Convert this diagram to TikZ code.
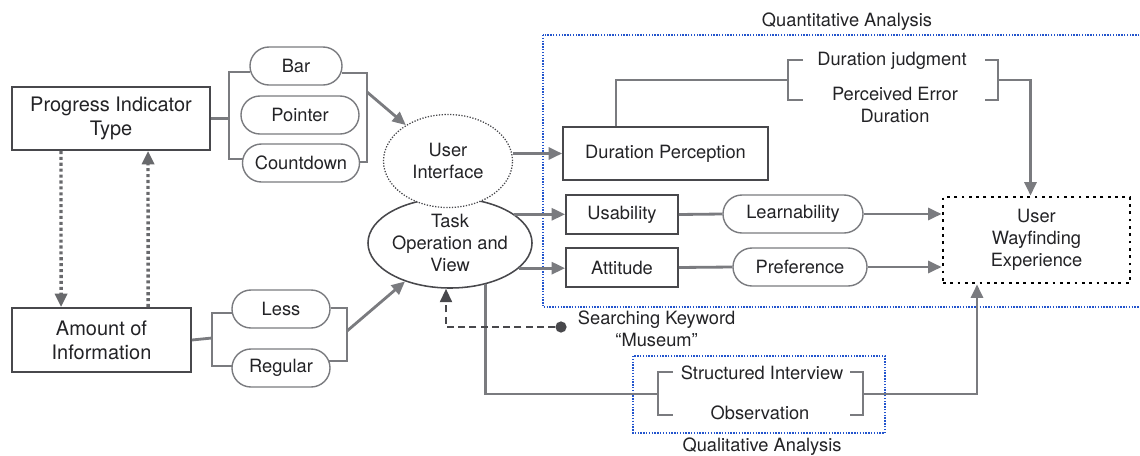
\documentclass[tikz,border=0pt]{standalone}
\usepackage{fontspec}
\setmainfont{TeX Gyre Heros}
\usepackage{xcolor}
\usepackage{tikz}
\usetikzlibrary{shapes,arrows,arrows.meta,positioning,calc}
\definecolor{linegray}{RGB}{122,123,127}
\definecolor{boxgray}{RGB}{72,72,76}
\definecolor{txtgray}{RGB}{35,35,38}
\definecolor{dotblue}{RGB}{35,85,205}

\begin{document}
\begin{tikzpicture}[x=0.025cm,y=-0.025cm,
        font=\fontsize{13}{15.5}\selectfont, text=txtgray,
        >={Triangle[length=9.5pt,width=8.5pt]},
        box/.style={draw=boxgray,line width=1.3pt,fill=white,inner sep=0pt,align=center},
        pill/.style={draw=linegray,line width=1pt,fill=white,rounded rectangle,inner sep=0pt,minimum height=0.95cm},
        conn/.style={draw=linegray,line width=2pt},
        arr/.style={conn,->},
        dotarr/.style={draw=linegray!85!black,line width=2.4pt,dash pattern=on 2.2pt off 2pt,->},
        dasharr/.style={draw=boxgray,line width=1.6pt,dash pattern=on 5pt off 3pt,->},
        frame/.style={draw=dotblue,line width=1pt,dash pattern=on 1pt off 1pt}]
            \useasboundingbox (0,0) rectangle (1140,455);
            % analysis frames
            \draw[frame] (543,35) rectangle (1150,307);
            \node (quanttitle) at (847,22) {Quantitative Analysis};
            \draw[frame] (633,356) rectangle (885,433);
            \node (qualtitle) at (762,447) {Qualitative Analysis};
            % factors
            \node[box,font=\fontsize{14.2}{17}\selectfont,minimum width=4.95cm,minimum height=1.575cm] (pit) at (111,118.5) {Progress Indicator\\Type};
            \node[box,font=\fontsize{14.2}{17}\selectfont,minimum width=4.475cm,minimum height=1.6cm] (aoi) at (101.5,340) {Amount of\\Information};
            \node[pill,minimum width=2.3cm] (bar) at (296,66) {Bar};
            \node[pill,minimum width=2.95cm] (pointer) at (300,115) {Pointer};
            \node[pill,minimum width=2.925cm] (cdown) at (301,163) {Countdown};
            \node[pill,minimum width=2.45cm] (less) at (281,309) {Less};
            \node[pill,minimum width=2.45cm] (regular) at (281,368) {Regular};
            % interface and task
            \node[ellipse,draw=boxgray,line width=1.1pt,fill=white,align=center,inner sep=0pt,minimum width=4.1cm,minimum height=2.25cm] (task) at (450,243) {Task\\Operation and\\View};
            \node[ellipse,draw=boxgray,line width=0.9pt,dash pattern=on 0.9pt off 1.1pt,fill=white,align=center,inner sep=0pt,minimum width=3.225cm,minimum height=2.325cm] (ui) at (448,161) {User\\Interface};
            % measures
            \node[box,minimum width=5.125cm,minimum height=1.325cm] (dp) at (665.5,153.5) {Duration Perception};
            \node[box,minimum width=2.8cm,minimum height=0.975cm] (usab) at (622,214.5) {Usability};
            \node[box,minimum width=2.8cm,minimum height=0.975cm] (att) at (622,267.5) {Attitude};
            \node[pill,minimum width=3.5cm] (learn) at (793,214) {Learnability};
            \node[pill,minimum width=3.35cm] (pref) at (800,267) {Preference};
            \node[box,draw=black,line width=2pt,dash pattern=on 2pt off 3.2pt,minimum width=4.675cm,minimum height=2.15cm] (uwe) at (1036.5,240) {User\\Wayfinding\\Experience};
            \node (djud) at (892,61) {Duration judgment};
            \node[align=center] (perr) at (895,105) {Perceived Error\\Duration};
            \node (sint) at (762,373) {Structured Interview};
            \node (obs) at (760,413) {Observation};
            \node[circle,fill=boxgray,inner sep=0pt,minimum size=8pt] (kw) at (561,327) {};
            \node[align=center,anchor=west] (kwtext) at (573,329) {Searching Keyword\\“Museum”};
            % joints of the brackets
            \coordinate (jA) at (229,118.5);
            \coordinate (jB) at (367,92);
            \coordinate (jC) at (212,338);
            \coordinate (jD) at (347,331);
            \coordinate (jE) at (788,80);
            \coordinate (jF) at (998,80);
            \coordinate (jG) at (658,394);
            \coordinate (jH) at (863,394);
            % indicator type
            \draw[conn] (pit.east) -- (jA);
            \draw[conn] ($(bar.west)+(1,6)$) -| (jA) |- ($(cdown.west)+(1,-4)$);
            \draw[conn] ($(bar.east)+(-1,7)$) -| (jB) |- ($(cdown.east)+(-1,-1)$);
            \draw[arr] (jB) -- (ui);
            % amount of information
            \draw[conn] (aoi.east) -- (jC);
            \draw[conn] ($(less.west)+(1,4)$) -| (jC) |- ($(regular.west)+(1,-2)$);
            \draw[conn] ($(less.east)+(0,-1)$) -| (jD) |- ($(regular.east)+(-1.3,-7)$);
            \draw[arr] (jD) -- (task);
            \draw[dotarr] ($(pit.south west)+(50,0)$) -- ($(aoi.north west)+(50,0)$);
            \draw[dotarr] ($(aoi.north west)+(137,0)$) -- ($(pit.south west)+(137,0)$);
            % quantitative side
            \draw[arr] (dp.west -| ui.east) -- (dp.west);
            \draw[arr] (task.24) -- (task.24 -| usab.west);
            \draw[arr] (task.-20) -- (task.-20 -| att.west);
            \draw[conn] (usab.east) -- (learn.west);
            \draw[conn] (att.east) -- (pref.west);
            \draw[arr] (learn.east) -- (learn.east -| uwe.west);
            \draw[arr] (pref.east) -- (pref.east -| uwe.west);
            \draw[conn] ($(dp.north west)+(54,0)$) |- (jE);
            \draw[conn] ($(jE)+(15,-20)$) -- ++(-15,0) -- ++(0,40) -- ++(15,0);
            \draw[conn] ($(jF)+(-13,-20)$) -- ++(13,0) -- ++(0,40) -- ++(-13,0);
            \draw[arr] (jF) -| ($(uwe.north)+(-6,0)$);
            % qualitative side
            \draw[conn] (task.-49) |- (jG);
            \draw[conn] ($(jG)+(15,-22)$) -- ++(-15,0) -- ++(0,43) -- ++(15,0);
            \draw[conn] ($(jH)+(-13,-22)$) -- ++(13,0) -- ++(0,43) -- ++(-13,0);
            \draw[arr] (jH) -| ($(uwe.south)+(-59.5,0)$);
            % keyword
            \draw[dasharr] (kw) -| ($(task.south)+(-4,0)$);
        \end{tikzpicture}
\end{document}
